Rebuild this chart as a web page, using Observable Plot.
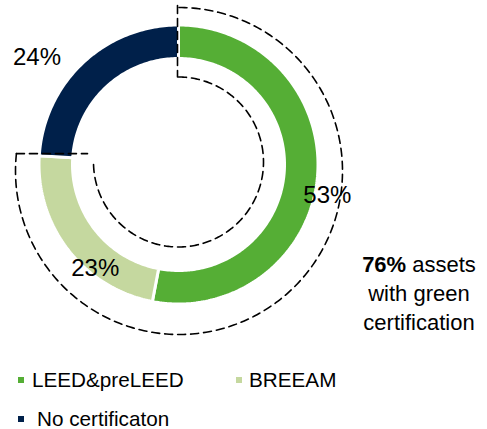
<!DOCTYPE html>
<html><head><meta charset="utf-8">
<script src="https://cdn.jsdelivr.net/npm/d3@7"></script>
<script src="https://cdn.jsdelivr.net/npm/@observablehq/plot@0.6"></script>
<style>
body{margin:0;background:#fff;font-family:"Liberation Sans",Arial,sans-serif;color:#000}
#wrap{position:relative;width:487px;height:429px;overflow:hidden;background:#fff}
#chart svg{display:block}
#note{position:absolute;left:348px;top:250px;width:142px;text-align:center;font-size:22px;line-height:29px}
.sw{position:absolute;width:6px;height:6px}
.lt{position:absolute;font-size:20.7px;line-height:22px;white-space:pre}
</style></head><body>
<div id="wrap"><div id="chart"></div><div id="note"></div><div id="legend"></div></div>
<script>
// ---- data ----
const categories = ["LEED&preLEED", "BREEAM", "No certificaton"];
const shares = [53, 23, 24];
const shareLabels = ["53%", "23%", "24%"];
const colors = ["#55ae35", "#c5d89f", "#00204a"];
const certifiedShare = 76;
const noteBold = "76%";
const noteLines = ["assets", "with green", "certification"];

// ---- layout ----
const W = 487, H = 360, CX = 178, CY = 164;
const R_OUT = 139.5, R_IN = 106;
const labelNudge = [[10, -18], [27, -18], [-46, 5]];
const legendPos = [{sx: 18, tx: 32, cy: 380}, {sx: 236, tx: 249, cy: 380}, {sx: 18, tx: 37, cy: 419}];

const total = d3.sum(shares);
const polar = (r, deg, cx = 0, cy = 0) => {
  const a = deg * Math.PI / 180;
  return {x: cx + r * Math.sin(a), y: cy + r * Math.cos(a)};
};
const arcPts = (r, a0, a1, cx = 0, cy = 0) => {
  const n = Math.max(2, Math.ceil(Math.abs(a1 - a0)));
  return d3.range(n + 1).map(i => polar(r, a0 + (a1 - a0) * i / n, cx, cy));
};

// slices
let acc = 0;
const ring = [];
const labelData = [];
categories.forEach((cat, i) => {
  const a0 = acc / total * 360;
  acc += shares[i];
  const a1 = acc / total * 360;
  const pts = [...arcPts(R_OUT, a0, a1), ...arcPts(R_IN, a1, a0)];
  pts.push(pts[0]);
  pts.forEach(p => ring.push({...p, cat}));
  const m = polar(R_OUT, (a0 + a1) / 2);
  labelData.push({x: m.x + labelNudge[i][0], y: m.y + labelNudge[i][1], text: shareLabels[i]});
});

// dashed bracket around certified share
const bracketAngle = certifiedShare / 100 * 360;
const outerC = {x: 0.5, y: -6.5, r: 163.5};
const innerC = {x: 0, y: 2.5, r: 85};
const outerArc = arcPts(outerC.r, 0, bracketAngle + 2.5, outerC.x, outerC.y);
const innerArc = arcPts(innerC.r, 0, bracketAngle - 3.6, innerC.x, innerC.y);
const oEnd = outerArc[outerArc.length - 1];
const bracket = [
  ...outerArc.map(p => ({...p, seg: "outer"})),
  ...innerArc.map(p => ({...p, seg: "inner"})),
  {x: -1, y: outerArc[0].y + 2, seg: "v"}, {x: -1, y: innerArc[0].y, seg: "v"},
  {x: oEnd.x, y: oEnd.y, seg: "h"}, {x: -91, y: oEnd.y, seg: "h"}
];

const chart = Plot.plot({
  width: W, height: H,
  margin: 0,
  x: {domain: [-CX, W - CX], range: [0, W], axis: null},
  y: {domain: [-(H - CY), CY], range: [H, 0], axis: null},
  color: {domain: categories, range: colors},
  style: {fontFamily: "'Liberation Sans', Arial, sans-serif", background: "white", overflow: "visible"},
  marks: [
    Plot.line(ring, {x: "x", y: "y", z: "cat", fill: "cat", stroke: "white", strokeWidth: 3, strokeLinejoin: "miter", curve: "linear"}),
    Plot.line(bracket, {x: "x", y: "y", z: "seg", stroke: "black", strokeWidth: 1.6, strokeDasharray: "8,5", curve: "linear"}),
    Plot.text(labelData, {x: "x", y: "y", text: "text", fontSize: 24, fill: "black", textAnchor: "middle"})
  ]
});
document.getElementById("chart").appendChild(chart);

document.getElementById("note").innerHTML =
  `<b>${noteBold}</b> ${noteLines[0]}<br>${noteLines.slice(1).join("<br>")}`;

const leg = document.getElementById("legend");
categories.forEach((cat, i) => {
  const p = legendPos[i];
  const s = document.createElement("div");
  s.className = "sw";
  s.style.left = p.sx + "px"; s.style.top = (p.cy - 3) + "px"; s.style.background = colors[i];
  const t = document.createElement("div");
  t.className = "lt";
  t.style.left = p.tx + "px"; t.style.top = (p.cy - 11) + "px";
  t.textContent = cat;
  leg.appendChild(s); leg.appendChild(t);
});
</script></body></html>
